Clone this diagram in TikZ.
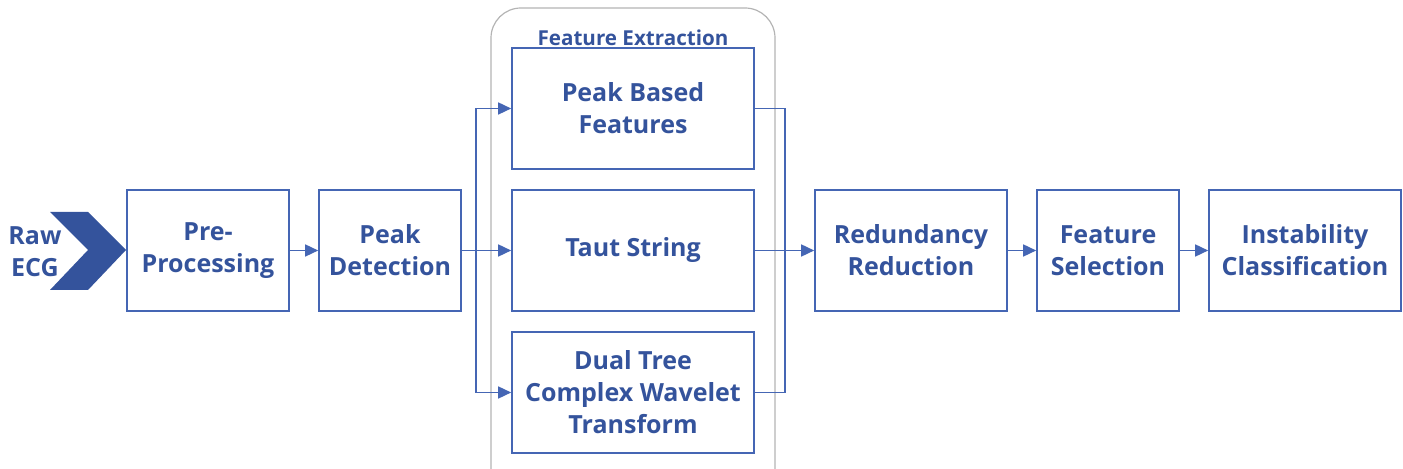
\documentclass[tikz,border=0pt]{standalone}
\usepackage{fontspec}
\setmainfont{Open Sans}
\usetikzlibrary{arrows.meta}
\definecolor{ecgblue}{HTML}{34539C}
\definecolor{lineblue}{HTML}{4566B4}
\definecolor{framegray}{HTML}{B4B4B4}
\tikzset{
  stage/.style={draw=lineblue, line width=0.8pt, fill=white, inner sep=0pt,
    text=ecgblue, font=\bfseries\fontsize{12.5}{16}\selectfont, align=center},
  link/.style={draw=lineblue, line width=0.75pt},
  flow/.style={link, -{Triangle[length=6.5pt,width=6pt]}},
}
\begin{document}
\begin{tikzpicture}[x=0.5pt, y=-0.5pt]
\useasboundingbox (0,0) rectangle (1403,469);
\clip (0,0) rectangle (1403,469);

% feature extraction container
\draw[framegray, line width=0.6pt, rounded corners=15pt] (491,8) rectangle (775,500);
\node[text=ecgblue, font=\bfseries\fontsize{10.3}{12}\selectfont] (fetitle) at (633,38) {Feature Extraction};

% input chevron
\fill[ecgblue] (50,212) -- (88,212) -- (126,250) -- (88,290) -- (50,290) -- (88,250) -- cycle;
\coordinate (tip) at (126,250);
\node[text=ecgblue, font=\bfseries\fontsize{12.5}{16}\selectfont, align=center, inner sep=0pt] (raw) at (35,252) {Raw\\ECG};

% processing stages
\node[stage, minimum width=81pt, minimum height=60.5pt] (pre) at (208,250.5) {Pre-\\Processing};
\node[stage, minimum width=71pt, minimum height=60.5pt] (det) at (390,250.5) {Peak\\Detection};
\node[stage, minimum width=121pt, minimum height=60.5pt] (pbf) at (633,108.5) {Peak Based\\Features};
\node[stage, minimum width=121pt, minimum height=60.5pt] (taut) at (633,250.5) {Taut String};
\node[stage, minimum width=121pt, minimum height=60.5pt] (dtcwt) at (633,392.5) {Dual Tree\\Complex Wavelet\\Transform};
\node[stage, minimum width=96pt, minimum height=60.5pt] (red) at (911,250.5) {Redundancy\\Reduction};
\node[stage, minimum width=71pt, minimum height=60.5pt] (sel) at (1108,250.5) {Feature\\Selection};
\node[stage, minimum width=96pt, minimum height=60.5pt] (cls) at (1305,250.5) {Instability\\Classification};

% connectors
\coordinate (split) at (476,250.5);
\coordinate (join) at (785,250.5);
\draw[flow] (pre) -- (det);
\draw[link] (det) -- (split);
\draw[flow] (split) -- (taut);
\draw[flow] (split) |- (pbf.west);
\draw[flow] (split) |- (dtcwt.west);
\draw[link] (pbf.east) -| (join);
\draw[link] (dtcwt.east) -| (join);
\draw[flow] (taut) -- (red);
\draw[flow] (red) -- (sel);
\draw[flow] (sel) -- (cls);
\end{tikzpicture}
\end{document}
